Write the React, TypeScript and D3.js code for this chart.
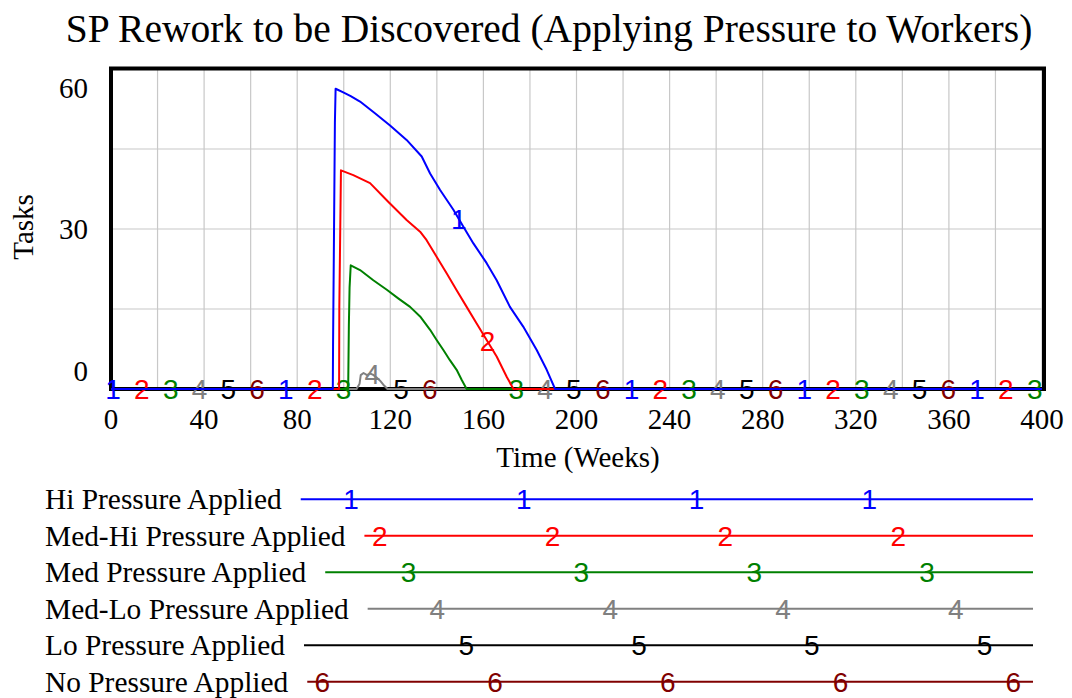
import React, { useEffect, useRef } from "react";
import * as d3 from "d3";

type Pt = [number, number];

const TITLE = "SP Rework to be Discovered (Applying Pressure to Workers)";
const X_LABEL = "Time (Weeks)";
const Y_LABEL = "Tasks";
const X_TICKS = [0, 40, 80, 120, 160, 200, 240, 280, 320, 360, 400];
const X_GRID = d3.range(0, 401, 20);
const Y_TICKS = [0, 30, 60];
const Y_GRID = [15, 30, 45];

const SERIES_NAMES = [
  "Hi Pressure Applied",
  "Med-Hi Pressure Applied",
  "Med Pressure Applied",
  "Med-Lo Pressure Applied",
  "Lo Pressure Applied",
  "No Pressure Applied",
];
const SERIES_MARKS = ["1", "2", "3", "4", "5", "6"];
const SERIES_COLORS = ["#0000ff", "#ff0000", "#008000", "#808080", "#000000", "#800000"];

const HI_PRESSURE: Pt[] = [
  [0, 0], [95.3, 0], [95.4, 8], [95.8, 28.5], [96.2, 50], [96.5, 56.3], [99.8, 55.6], [103, 54.9],
  [107, 53.9], [113.4, 51.7], [119.9, 49.4], [127, 46.7], [133.5, 43.6], [137.1, 40.4],
  [141.4, 37.3], [147.1, 33.6], [151.4, 30.4], [155.7, 27.3], [161.4, 23.6], [165.7, 20.4],
  [171.4, 15.4], [177.1, 11.7], [182.9, 7.3], [187.2, 3.6], [190.8, 0], [400, 0],
];
const MED_HI_PRESSURE: Pt[] = [
  [0, 0], [98.0, 0], [98.1, 15.4], [98.8, 41.0], [104.1, 40.1], [111.3, 38.6], [119.1, 35.1],
  [127, 31.7], [132.8, 29.5], [135.6, 27.9], [139.9, 24.8], [144.2, 21.7], [148.5, 18.5],
  [152.8, 15.4], [157.1, 12.3], [161.4, 9.2], [165.7, 6.1], [170, 2.3], [172.9, 0], [400, 0],
];
const MED_PRESSURE: Pt[] = [
  [0, 0], [101.9, 0], [102.2, 12], [102.5, 19], [103, 23.2], [107, 22.3], [112.7, 20.4],
  [118.5, 18.6], [123.4, 17], [128.5, 15.4], [132.8, 13.6], [137.1, 11.1], [139.9, 9.2],
  [142.8, 7.3], [145.6, 5.4], [148.5, 3.6], [150.7, 1.7], [152.8, 0], [400, 0],
];
const MED_LO_PRESSURE: Pt[] = [
  [0, 0], [105.5, 0], [106.8, 1], [107.3, 2.6], [108.5, 3.0], [110, 2.6], [111.2, 2.9],
  [112.5, 2.7], [114, 2.2], [115.5, 1.6], [117, 0.8], [118.8, 0], [400, 0],
];
const LO_PRESSURE: Pt[] = [[0, 0], [400, 0]];
const NO_PRESSURE: Pt[] = [[0, 0], [400, 0]];

const SERIES_DATA: Pt[][] = [
  HI_PRESSURE, MED_HI_PRESSURE, MED_PRESSURE, MED_LO_PRESSURE, LO_PRESSURE, NO_PRESSURE,
];

// marker placement along each line (weeks)
const MARKER_START_WEEK = 0.9;
const MARKER_STEP_WEEKS = 12.374;

const W = 1072;
const H = 698;
const PLOT = { left: 111, right: 1042, top: 69, bottom: 389 };
const SERIF = "'Liberation Serif', 'Times New Roman', serif";
const SANS = "'Liberation Sans', Arial, sans-serif";

function valueAt(data: Pt[], t: number): number {
  for (let i = 1; i < data.length; i++) {
    if (t <= data[i][0]) {
      const [t0, v0] = data[i - 1];
      const [t1, v1] = data[i];
      if (t1 === t0) return v1;
      return v0 + ((v1 - v0) * (t - t0)) / (t1 - t0);
    }
  }
  return data[data.length - 1][1];
}

export default function App() {
  const ref = useRef<SVGSVGElement | null>(null);

  useEffect(() => {
    const svg = d3.select(ref.current);
    svg.selectAll("*").remove();

    const x = d3.scaleLinear().domain([0, 400]).range([PLOT.left, PLOT.right]);
    const y = d3.scaleLinear().domain([0, 60]).range([PLOT.bottom, PLOT.top]);

    svg.append("rect").attr("width", W).attr("height", H).attr("fill", "#fff");

    // title
    svg.append("text")
      .attr("x", 549).attr("y", 42)
      .attr("text-anchor", "middle")
      .attr("font-family", SERIF).attr("font-size", 39.5)
      .attr("fill", "#000")
      .text(TITLE);

    // grid
    const g = svg.append("g");
    g.selectAll("line.vg").data(X_GRID).join("line")
      .attr("x1", (d) => x(d)).attr("x2", (d) => x(d))
      .attr("y1", PLOT.top).attr("y2", PLOT.bottom)
      .attr("stroke", "#c8c8c8").attr("stroke-width", 1.2);
    g.selectAll("line.hg").data(Y_GRID).join("line")
      .attr("x1", PLOT.left).attr("x2", PLOT.right)
      .attr("y1", (d) => y(d)).attr("y2", (d) => y(d))
      .attr("stroke", "#c8c8c8").attr("stroke-width", 1.2);

    // frame
    svg.append("rect")
      .attr("x", PLOT.left).attr("y", PLOT.top - 0.5)
      .attr("width", PLOT.right - PLOT.left + 2).attr("height", PLOT.bottom - PLOT.top + 0.5)
      .attr("fill", "none").attr("stroke", "#000").attr("stroke-width", 4);

    // x tick labels
    svg.selectAll("text.xt").data(X_TICKS).join("text")
      .attr("x", (d) => x(d)).attr("y", 429)
      .attr("text-anchor", "middle")
      .attr("font-family", SERIF).attr("font-size", 29)
      .text((d) => String(d));

    // y tick labels
    svg.selectAll("text.yt").data(Y_TICKS).join("text")
      .attr("x", 88)
      .attr("y", (d) => Math.max(PLOT.top + 19, Math.min(PLOT.bottom - 18, y(d))) + 10)
      .attr("text-anchor", "end")
      .attr("font-family", SERIF).attr("font-size", 29)
      .text((d) => String(d));

    svg.append("text")
      .attr("x", 578).attr("y", 467)
      .attr("text-anchor", "middle")
      .attr("font-family", SERIF).attr("font-size", 29)
      .text(X_LABEL);

    svg.append("text")
      .attr("transform", "translate(33,227) rotate(-90)")
      .attr("text-anchor", "middle")
      .attr("font-family", SERIF).attr("font-size", 29)
      .text(Y_LABEL);

    // series lines + markers, drawn last-to-first so series 1 is on top
    const line = d3.line<Pt>().x((d) => x(d[0])).y((d) => y(d[1]));
    const cycle = MARKER_STEP_WEEKS * SERIES_DATA.length;
    for (let k = SERIES_DATA.length - 1; k >= 0; k--) {
      const data = SERIES_DATA[k];
      const col = SERIES_COLORS[k];
      svg.append("path")
        .attr("d", line(data) as string)
        .attr("fill", "none").attr("stroke", col).attr("stroke-width", 2)
        .attr("stroke-linejoin", "round");
      const ts: number[] = [];
      for (let t = MARKER_START_WEEK + k * MARKER_STEP_WEEKS; t <= 400; t += cycle) ts.push(t);
      svg.selectAll(`text.m${k}`).data(ts).join("text")
        .attr("x", (t) => x(t))
        .attr("y", (t) => y(valueAt(data, t)) + 10)
        .attr("text-anchor", "middle")
        .attr("font-family", SANS).attr("font-size", 28)
        .attr("fill", col)
        .text(SERIES_MARKS[k]);
    }

    // legend
    const legendTop = 499.3;
    const legendStep = 36.5;
    const legendEnd = 1033;
    const legendMarkPhase = 351;
    const legendMarkStep = 28.8;
    SERIES_NAMES.forEach((name, k) => {
      const ly = legendTop + k * legendStep;
      const txt = svg.append("text")
        .attr("x", 45).attr("y", ly + 10)
        .attr("font-family", SERIF).attr("font-size", 29.4)
        .text(name);
      const tw = (txt.node() as SVGTextElement).getComputedTextLength();
      const start = 45 + tw + 19;
      svg.append("line")
        .attr("x1", start).attr("x2", legendEnd)
        .attr("y1", ly).attr("y2", ly)
        .attr("stroke", SERIES_COLORS[k]).attr("stroke-width", 2);
      const period = legendMarkStep * SERIES_NAMES.length;
      let mx = legendMarkPhase + k * legendMarkStep;
      while (mx - period >= start) mx -= period;
      const xs: number[] = [];
      for (; mx <= legendEnd; mx += period) if (mx >= start) xs.push(mx);
      svg.selectAll(`text.lm${k}`).data(xs).join("text")
        .attr("x", (d) => d).attr("y", ly + 10)
        .attr("text-anchor", "middle")
        .attr("font-family", SANS).attr("font-size", 28)
        .attr("fill", SERIES_COLORS[k])
        .text(SERIES_MARKS[k]);
    });
  }, []);

  return (
    <svg
      ref={ref}
      width={W}
      height={H}
      style={{ position: "absolute", left: 0, top: 0, display: "block" }}
    />
  );
}
